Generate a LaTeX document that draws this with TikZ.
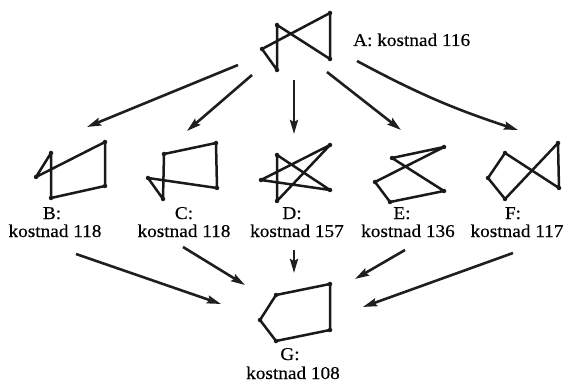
\documentclass[tikz,border=0pt]{standalone}
\usepackage{fontspec}
\setmainfont{Liberation Serif}[FakeStretch=1.07,FakeBold=0.4]
\usetikzlibrary{arrows.meta}
\begin{document}
\begin{tikzpicture}[x=1pt,y=-1pt,
  tour/.style={line width=2.5pt,line join=round,line cap=round,black!90},
  lbl/.style={anchor=base,inner sep=0pt,font=\fontsize{18}{18}\selectfont},
  arr/.style={line width=2.6pt,black!88,-{Stealth[length=14pt,width=8pt,inset=2pt]}}]
\useasboundingbox (0,0) rectangle (568,385);
\tikzset{vdot/.style={fill=black!90,circle,inner sep=0pt,minimum size=4.5pt}}
% Tour A
\path (277,25) coordinate (A1) (330,13) coordinate (A2) (330,59) coordinate (A3)
      (262,49) coordinate (A4) (277,70) coordinate (A5);
\draw[tour] (A1)--(A3)--(A2)--(A4)--(A5)--cycle;
\foreach \p in {A1,A2,A3,A4,A5} \node[vdot] at (\p) {};
\node[lbl,anchor=base west] (labA) at (353,46) {A: kostnad 116};
% Tour B
\path (51,153) coordinate (B1) (36,177) coordinate (B2) (105,142) coordinate (B3)
      (105,186) coordinate (B4) (51,198) coordinate (B5);
\draw[tour] (B1)--(B2)--(B3)--(B4)--(B5)--cycle;
\foreach \p in {B1,B2,B3,B4,B5} \node[vdot] at (\p) {};
\node[lbl] (labB1) at (52,219) {B:};
\node[lbl] (labB2) at (55,237) {kostnad 118};
% Tour C
\path (164,154) coordinate (C1) (216,143) coordinate (C2) (217,188) coordinate (C3)
      (148,178) coordinate (C4) (163,199) coordinate (C5);
\draw[tour] (C1)--(C2)--(C3)--(C4)--(C5)--cycle;
\foreach \p in {C1,C2,C3,C4,C5} \node[vdot] at (\p) {};
\node[lbl] (labC1) at (184,219) {C:};
\node[lbl] (labC2) at (184,237) {kostnad 118};
% Tour D
\path (277,155) coordinate (D1) (330,145) coordinate (D2) (261,180) coordinate (D3)
      (330,190) coordinate (D4) (277,201) coordinate (D5);
\draw[tour] (D1)--(D4)--(D3)--(D2)--(D5)--cycle;
\foreach \p in {D1,D2,D3,D4,D5} \node[vdot] at (\p) {};
\node[lbl] (labD1) at (292,219) {D:};
\node[lbl] (labD2) at (297,237) {kostnad 157};
% Tour E
\path (392,158) coordinate (E1) (444,147) coordinate (E2) (375,182) coordinate (E3)
      (444,191) coordinate (E4) (390,202) coordinate (E5);
\draw[tour] (E1)--(E2)--(E3)--(E5)--(E4)--cycle;
\foreach \p in {E1,E2,E3,E4,E5} \node[vdot] at (\p) {};
\node[lbl] (labE1) at (402,219) {E:};
\node[lbl] (labE2) at (408,237) {kostnad 136};
% Tour F
\path (505,153) coordinate (F1) (558,143) coordinate (F2) (488,178) coordinate (F3)
      (559,188) coordinate (F4) (505,199) coordinate (F5);
\draw[tour] (F1)--(F4)--(F2)--(F5)--(F3)--cycle;
\foreach \p in {F1,F2,F3,F4,F5} \node[vdot] at (\p) {};
\node[lbl] (labF1) at (513,219) {F:};
\node[lbl] (labF2) at (517,237) {kostnad 117};
% Tour G
\path (276,295) coordinate (G1) (330,284) coordinate (G2) (330,330) coordinate (G3)
      (276,341) coordinate (G4) (260,320) coordinate (G5);
\draw[tour] (G1)--(G2)--(G3)--(G4)--(G5)--cycle;
\foreach \p in {G1,G2,G3,G4,G5} \node[vdot] at (\p) {};
\node[lbl] (labG1) at (290,360) {G:};
\node[lbl] (labG2) at (293,379) {kostnad 108};
% arrow end points
\coordinate (sAB) at (238,65);  \coordinate (eAB) at (87,127);
\coordinate (sAC) at (252,75);  \coordinate (eAC) at (187,131);
\coordinate (sAD) at (294,80);  \coordinate (eAD) at (294,134);
\coordinate (sAE) at (327,72);  \coordinate (eAE) at (401,130);
\coordinate (sAF) at (357,61);  \coordinate (eAF) at (518,130);
\coordinate (sBG) at (76,254);  \coordinate (eBG) at (221,304);
\coordinate (sCG) at (183,247); \coordinate (eCG) at (245,285);
\coordinate (sDG) at (294,250); \coordinate (eDG) at (294,273);
\coordinate (sEG) at (405,250); \coordinate (eEG) at (355,279);
\coordinate (sFG) at (513,253); \coordinate (eFG) at (363,307);
\draw[arr] (sAB) -- (eAB);
\draw[arr] (sAC) -- (eAC);
\draw[arr] (sAD) -- (eAD);
\draw[arr] (sAE) -- (eAE);
\draw[arr] (sAF) to[bend right=5] (eAF);
\draw[arr] (sBG) -- (eBG);
\draw[arr] (sCG) -- (eCG);
\draw[arr] (sDG) -- (eDG);
\draw[arr] (sEG) -- (eEG);
\draw[arr] (sFG) -- (eFG);
\end{tikzpicture}
\end{document}
